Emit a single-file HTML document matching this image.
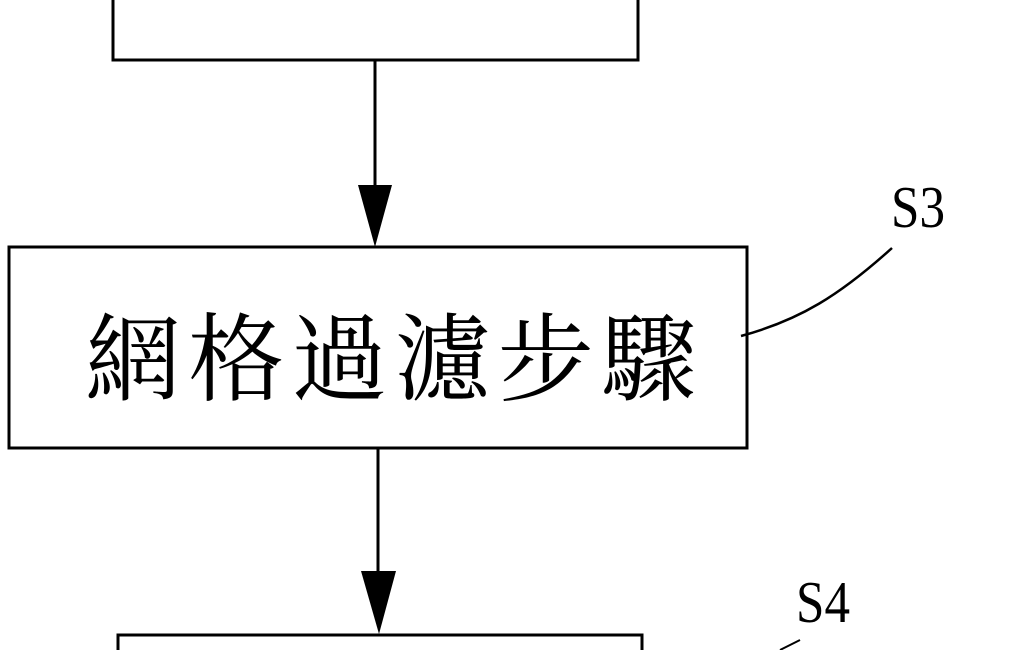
<!DOCTYPE html>
<html><head><meta charset="utf-8"><style>
html,body{margin:0;padding:0;background:#fff;width:1020px;height:650px;overflow:hidden}
svg{display:block}
</style></head><body>
<svg width="1020" height="650" viewBox="0 0 1020 650" xmlns="http://www.w3.org/2000/svg">
<g fill="none" stroke="#000" stroke-width="3">
<rect x="113" y="-5" width="525" height="65"/>
<rect x="9" y="247" width="738" height="201"/>
<rect x="118" y="635" width="524" height="30"/>
<line x1="375" y1="60" x2="375" y2="190"/>
<line x1="378" y1="448" x2="378" y2="575"/>
<path d="M741 336 C800 320 840 295 892 248" stroke-width="2.5"/>
<path d="M780 650 L800 640" stroke-width="2"/>
</g>
<polygon points="358,185 392,185 375,247" fill="#000"/>
<polygon points="361,571 396,571 379,634" fill="#000"/>
<text x="85" y="393" font-family="'Liberation Serif','Noto Serif CJK SC','Noto Sans CJK TC',serif" font-size="96" textLength="612" lengthAdjust="spacing">網格過濾步驟</text>
<g transform="translate(918,227) scale(1,1.35)"><text x="0" y="0" text-anchor="middle" font-family="'Liberation Serif',serif" font-size="44" textLength="54" lengthAdjust="spacingAndGlyphs">S3</text></g>
<g transform="translate(823,622) scale(1,1.35)"><text x="0" y="0" text-anchor="middle" font-family="'Liberation Serif',serif" font-size="44" textLength="54" lengthAdjust="spacingAndGlyphs">S4</text></g>
</svg>
</body></html>
